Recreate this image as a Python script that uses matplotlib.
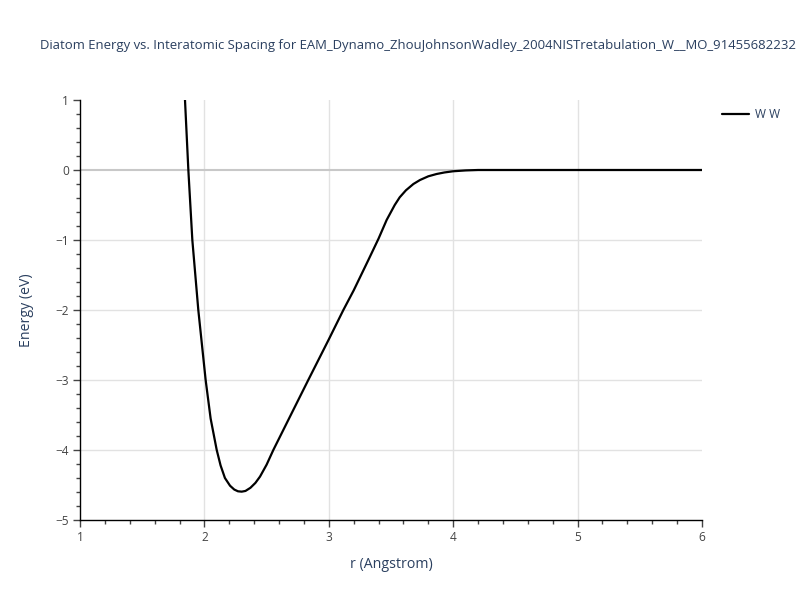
import matplotlib
matplotlib.use("Agg")
import matplotlib.pyplot as plt
from matplotlib.ticker import MultipleLocator

# Data
r_values = [1.844, 1.871, 1.903, 1.951, 2.010, 2.05, 2.099, 2.13, 2.165, 2.206, 2.24, 2.27,
            2.30, 2.33, 2.37, 2.41, 2.447, 2.50, 2.554, 2.70, 2.835, 3.0, 3.117, 3.20,
            3.318, 3.40, 3.465, 3.53, 3.57, 3.62, 3.68, 3.733, 3.80, 3.867, 3.93, 4.0,
            4.1, 4.2, 4.5, 5.0, 5.5, 6.0]
energy_values = [1.0, 0.0, -1.0, -2.0, -3.0, -3.55, -4.0, -4.22, -4.40, -4.51, -4.565,
                 -4.59, -4.595, -4.585, -4.54, -4.47, -4.38, -4.21, -4.0, -3.48, -3.0,
                 -2.42, -2.0, -1.72, -1.286, -0.98, -0.714, -0.5, -0.39, -0.29, -0.2,
                 -0.143, -0.09, -0.057, -0.035, -0.018, -0.006, 0.0, 0.0, 0.0, 0.0, 0.0]
series_name = "W W"
title = ("Diatom Energy vs. Interatomic Spacing for "
         "EAM_Dynamo_ZhouJohnsonWadley_2004NISTretabulation_W__MO_91455682232")
x_ticks = [1, 2, 3, 4, 5, 6]
y_ticks = [-5, -4, -3, -2, -1, 0, 1]

plt.rcParams['font.family'] = ['Open Sans', 'DejaVu Sans']
text_color = '#2a3f5f'
tick_color = '#444444'

fig = plt.figure(figsize=(8, 6), dpi=100)
ax = fig.add_axes([0.1, 80/600, 622/800, 420/600])

ax.plot(r_values, energy_values, color='black', linewidth=1.6, label=series_name,
        solid_joinstyle='round', solid_capstyle='round', zorder=3)

ax.set_xlim(1, 6)
ax.set_ylim(-5, 1)
ax.set_xticks(x_ticks)
ax.set_yticks(y_ticks)
ax.xaxis.set_minor_locator(MultipleLocator(0.2))
ax.yaxis.set_minor_locator(MultipleLocator(0.2))

# grid
for xv in x_ticks[1:-1]:
    ax.axvline(xv, color='#e2e2e2', linewidth=1.0, zorder=1)
for yv in y_ticks[1:-1]:
    if yv == 0:
        ax.axhline(yv, color='#c8c8c8', linewidth=1.5, zorder=1)
    else:
        ax.axhline(yv, color='#e2e2e2', linewidth=1.0, zorder=1)

for s in ['top', 'right']:
    ax.spines[s].set_visible(False)
for s in ['left', 'bottom']:
    ax.spines[s].set_color('black')
    ax.spines[s].set_linewidth(1.0)

ax.tick_params(axis='both', which='major', direction='out', length=5, width=1,
               color='#444444', labelsize=8.6, labelcolor=tick_color, pad=3)
ax.tick_params(axis='both', which='minor', direction='out', length=3, width=1,
               color='#444444')

ax.set_xlabel('r (Angstrom)', fontsize=10.2, color=text_color, labelpad=9)
ax.set_ylabel('Energy (eV)', fontsize=10.2, color=text_color, labelpad=15)

fig.text(40/800, 1 - 45/600, title, fontsize=9.45, color=text_color,
         ha='left', va='center')

leg = ax.legend(loc='upper left', bbox_to_anchor=(1.018, 1.0), frameon=False,
                fontsize=8.6, handlelength=2.3, handletextpad=0.5, borderaxespad=0.3)
for t in leg.get_texts():
    t.set_color(text_color)

fig.savefig('out.png', dpi=100)
